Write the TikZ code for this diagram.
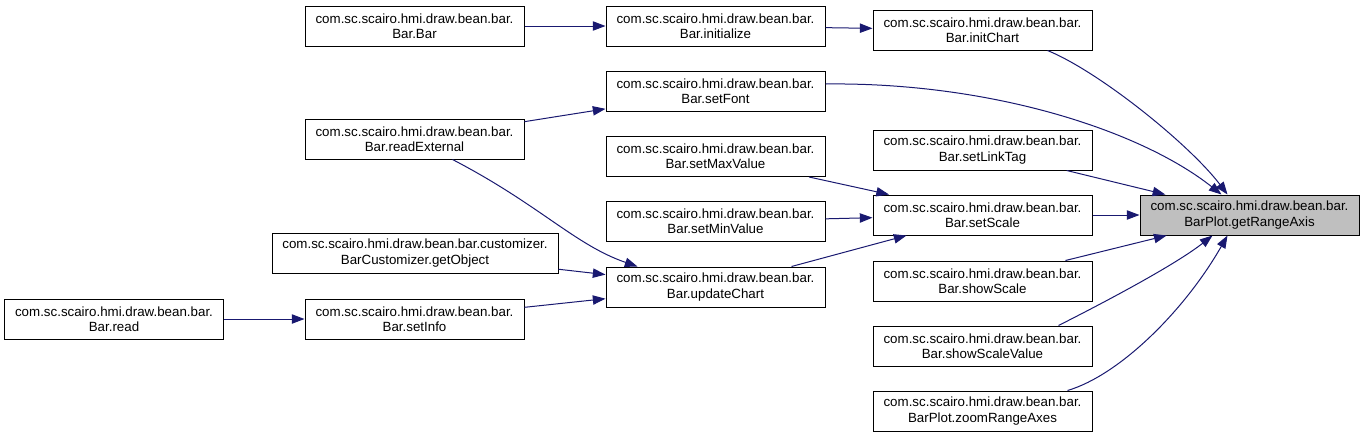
\documentclass[tikz,border=0pt]{standalone}
\usepackage{fontspec}
\setmainfont{Liberation Sans}
\usetikzlibrary{arrows.meta,calc}
\definecolor{edgeblue}{RGB}{25,25,112}
\definecolor{hitgray}{RGB}{191,191,191}
\tikzset{
	fn/.style={draw=black,line width=0.75pt,fill=white,align=center,inner sep=0pt,
		minimum width=164.25pt,minimum height=30pt,font=\fontsize{10pt}{11.5pt}\selectfont},
	call/.style={draw=edgeblue,line width=0.75pt,-{Triangle[length=9.5pt,width=7pt,fill=edgeblue]}},
}

\begin{document}
\begin{tikzpicture}[x=0.75pt,y=-0.75pt]
	\useasboundingbox (0,0) rectangle (1364,437);

	\node[fn] (read) at (114,319) {com.sc.scairo.hmi.draw.bean.bar.\\Bar.read};

	\node[fn] (barBar) at (414.5,26) {com.sc.scairo.hmi.draw.bean.bar.\\Bar.Bar};
	\node[fn] (readExternal) at (414.5,139) {com.sc.scairo.hmi.draw.bean.bar.\\Bar.readExternal};
	\node[fn,minimum width=214.5pt] (getObject) at (415,253) {com.sc.scairo.hmi.draw.bean.bar.customizer.\\BarCustomizer.getObject};
	\node[fn] (setInfo) at (414.5,319) {com.sc.scairo.hmi.draw.bean.bar.\\Bar.setInfo};

	\node[fn] (initialize) at (715.5,26) {com.sc.scairo.hmi.draw.bean.bar.\\Bar.initialize};
	\node[fn] (setFont) at (715.5,91.5) {com.sc.scairo.hmi.draw.bean.bar.\\Bar.setFont};
	\node[fn] (setMaxValue) at (715.5,156.5) {com.sc.scairo.hmi.draw.bean.bar.\\Bar.setMaxValue};
	\node[fn] (setMinValue) at (715.5,221.5) {com.sc.scairo.hmi.draw.bean.bar.\\Bar.setMinValue};
	\node[fn] (updateChart) at (715.5,287) {com.sc.scairo.hmi.draw.bean.bar.\\Bar.updateChart};

	\node[fn] (initChart) at (982.5,30) {com.sc.scairo.hmi.draw.bean.bar.\\Bar.initChart};
	\node[fn] (setLinkTag) at (982.5,150) {com.sc.scairo.hmi.draw.bean.bar.\\Bar.setLinkTag};
	\node[fn] (setScale) at (982.5,215) {com.sc.scairo.hmi.draw.bean.bar.\\Bar.setScale};
	\node[fn] (showScale) at (982.5,281) {com.sc.scairo.hmi.draw.bean.bar.\\Bar.showScale};
	\node[fn] (showScaleValue) at (982.5,346) {com.sc.scairo.hmi.draw.bean.bar.\\Bar.showScaleValue};
	\node[fn] (zoomRangeAxes) at (982.5,411) {com.sc.scairo.hmi.draw.bean.bar.\\BarPlot.zoomRangeAxes};

	\node[fn,fill=hitgray] (axis) at (1249.5,215) {com.sc.scairo.hmi.draw.bean.bar.\\BarPlot.getRangeAxis};

	\draw[call] (read) -- (setInfo);
	\draw[call] (barBar) -- (initialize);
	\draw[call] (readExternal) -- (setFont);
	\draw[call] ($(readExternal.south)+(38,0)$) .. controls (540,205) and (575,245) .. ($(updateChart.north)+(-78,0)$);
	\draw[call] (getObject) -- (updateChart);
	\draw[call] (setInfo) -- (updateChart);

	\draw[call] (initialize) -- (initChart);
	\draw[call] (setMaxValue) -- (setScale);
	\draw[call] (setMinValue) -- (setScale);
	\draw[call] (updateChart) -- (setScale);

	\draw[call] ($(initChart.south)+(65,0)$) .. controls (1100,72) and (1190,145) .. ($(axis.north)+(-22,0)$);
	\draw[call] ($(setFont.east)+(0,-7.5)$) .. controls (990,82) and (1140,130) .. ($(axis.north)+(-28,0)$);
	\draw[call] (setLinkTag) -- (axis);
	\draw[call] (setScale) -- (axis);
	\draw[call] (showScale) -- (axis);
	\draw[call] ($(showScaleValue.north)+(76,0)$) .. controls (1105,302) and (1175,265) .. ($(axis.south)+(-37,0)$);
	\draw[call] ($(zoomRangeAxes.north)+(85,0)$) .. controls (1120,375) and (1185,310) .. ($(axis.south)+(-22,0)$);
\end{tikzpicture}
\end{document}
